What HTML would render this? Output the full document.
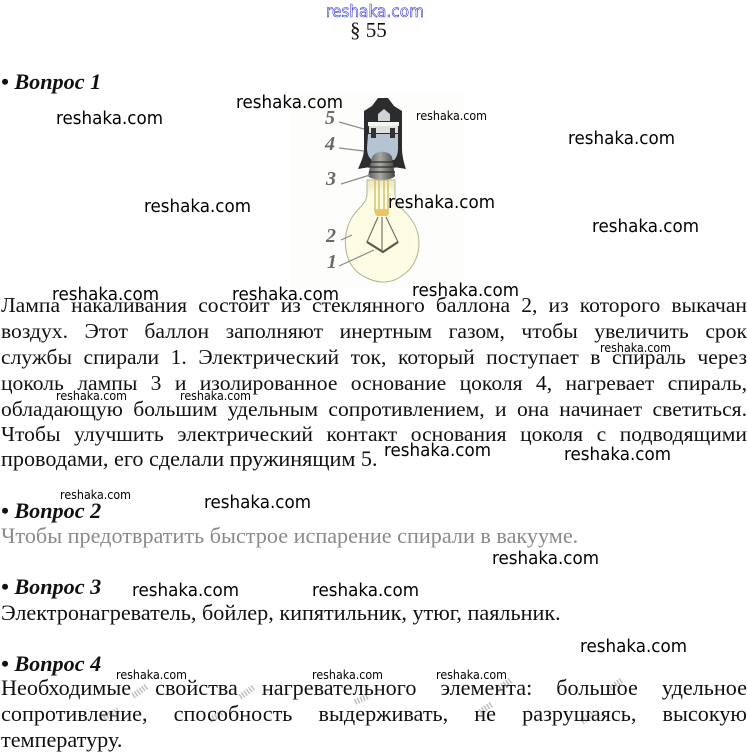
<!DOCTYPE html>
<html lang="ru">
<head>
<meta charset="utf-8">
<style>
html,body{margin:0;padding:0;background:#fff;width:747px;height:752px;overflow:hidden}
body{position:relative;font-family:"Liberation Serif","Noto Serif CJK SC",serif;color:#111}
.l{position:absolute;left:1px;width:746px;font-size:21.6px;line-height:26px;height:26px;white-space:nowrap;text-align:justify;text-align-last:justify}
.s{text-align:left;text-align-last:left;font-size:22.2px}
.b{font-size:22.2px}
.h{position:absolute;left:1px;font-size:22.2px;line-height:26px;font-weight:bold;font-style:italic;white-space:nowrap}
svg{position:absolute;left:0;top:0}
.w{font-family:"DejaVu Sans",sans-serif;fill:#000}
</style>
</head>
<body>
<svg width="747" height="752" viewBox="0 0 747 752">
  <defs>
    <radialGradient id="g" cx="50%" cy="58%" r="55%">
      <stop offset="0" stop-color="#fdfbe0"/>
      <stop offset="0.85" stop-color="#fdfce4"/>
      <stop offset="1" stop-color="#f0edc6"/>
    </radialGradient>
    <linearGradient id="sc" x1="0" x2="1" y1="0" y2="0">
      <stop offset="0" stop-color="#5a5a58"/>
      <stop offset="0.45" stop-color="#a9a9a4"/>
      <stop offset="1" stop-color="#444442"/>
    </linearGradient>
  </defs>
  <rect x="290" y="92" width="175" height="196" fill="#fdfdfc"/>
  <!-- bulb glass -->
  <path d="M367 180 L367 194 C367 204 357 208 351 219 C340 240 345 268 365 277 C378 284 392 284 403 275 C421 263 424 236 411 219 C404 209 395 205 395 194 L395 180 Z" fill="url(#g)" stroke="#b4b296" stroke-width="1"/>
  <!-- filament supports -->
  <path d="M375 178 V212 M379 178 V212 M384 178 V212 M388 178 V212" stroke="#cfbd62" stroke-width="1.4" fill="none"/>
  <rect x="375" y="209" width="14" height="7" rx="3" fill="#e5c765"/>
  <path d="M378 217 L367 242 L383 252 L398 242 L386 217 M382 217 V250" stroke="#6a6a60" stroke-width="1.1" fill="none"/>
  <path d="M367 242 L383 252 L398 242" stroke="#57564c" stroke-width="2.2" fill="none"/>
  <!-- socket -->
  <path d="M378 98 L388 98 L394 106 L402 111 L402 148 C402 156 404 163 406 169 L394 167 L370 167 L358 169 C361 162 364 156 364 148 L364 111 L372 106 Z" fill="#2a2c2e"/>
  <path d="M368 134 L398 134 L398 148 C398 155 396 158 394 160 L372 160 C369 158 367 154 367 148 Z" fill="#b4c4d2"/>
  <path d="M369 125 H398 V133 H369 Z" fill="#dfe0dc"/>
  <path d="M368 122 H399 V126 H368 Z" fill="#f4f4f0"/>
  <path d="M378 114 L384 109 L390 114 L390 121 L378 121 Z" fill="#d0d3d0"/>
  <path d="M371 128 h5 v10 h-5z M390 128 h5 v10 h-5z" fill="#333"/>
  <!-- screw cap -->
  <path d="M372 157 C376 150 389 150 392 157 L395 176 C392 181 372 181 368 176 Z" fill="url(#sc)"/>
  <path d="M369 162 H395 M368 167 H396 M369 172 H395" stroke="#2e2e2c" stroke-width="1.3"/>
  <!-- leader lines -->
  <path d="M339 122 L364 129 M339 148 L364 151 M341 184 L370 175 M341 240 L352 235 M339 266 L374 250" stroke="#8b8b85" stroke-width="1.2" fill="none"/>
  <g font-family="Liberation Serif, serif" font-size="20" font-style="italic" fill="#6a6a62" font-weight="bold">
    <text x="325" y="124">5</text>
    <text x="325" y="150">4</text>
    <text x="326" y="185">3</text>
    <text x="326" y="242">2</text>
    <text x="327" y="268">1</text>
  </g>
  <!-- large watermarks -->
  <g class="w" font-size="18">
    <text x="236" y="108" textLength="107" lengthAdjust="spacingAndGlyphs">reshaka.com</text>
    <text x="56" y="124" textLength="107" lengthAdjust="spacingAndGlyphs">reshaka.com</text>
    <text x="568" y="144" textLength="107" lengthAdjust="spacingAndGlyphs">reshaka.com</text>
    <text x="144" y="212" textLength="107" lengthAdjust="spacingAndGlyphs">reshaka.com</text>
    <text x="388" y="208" textLength="107" lengthAdjust="spacingAndGlyphs">reshaka.com</text>
    <text x="592" y="232" textLength="107" lengthAdjust="spacingAndGlyphs">reshaka.com</text>
    <text x="52" y="300" textLength="107" lengthAdjust="spacingAndGlyphs">reshaka.com</text>
    <text x="232" y="300" textLength="107" lengthAdjust="spacingAndGlyphs">reshaka.com</text>
    <text x="412" y="296" textLength="107" lengthAdjust="spacingAndGlyphs">reshaka.com</text>
    <text x="384" y="456" textLength="107" lengthAdjust="spacingAndGlyphs">reshaka.com</text>
    <text x="564" y="460" textLength="107" lengthAdjust="spacingAndGlyphs">reshaka.com</text>
    <text x="204" y="508" textLength="107" lengthAdjust="spacingAndGlyphs">reshaka.com</text>
    <text x="492" y="564" textLength="107" lengthAdjust="spacingAndGlyphs">reshaka.com</text>
    <text x="132" y="596" textLength="107" lengthAdjust="spacingAndGlyphs">reshaka.com</text>
    <text x="312" y="596" textLength="107" lengthAdjust="spacingAndGlyphs">reshaka.com</text>
    <text x="580" y="652" textLength="107" lengthAdjust="spacingAndGlyphs">reshaka.com</text>
  </g>
  <!-- small watermarks -->
  <g class="w" font-size="12">
    <text x="416" y="120" textLength="71" lengthAdjust="spacingAndGlyphs">reshaka.com</text>
    <text x="600" y="352" textLength="71" lengthAdjust="spacingAndGlyphs">reshaka.com</text>
    <text x="56" y="400" textLength="71" lengthAdjust="spacingAndGlyphs">reshaka.com</text>
    <text x="180" y="400" textLength="71" lengthAdjust="spacingAndGlyphs">reshaka.com</text>
    <text x="60" y="499" textLength="71" lengthAdjust="spacingAndGlyphs">reshaka.com</text>
    <text x="116" y="679" textLength="71" lengthAdjust="spacingAndGlyphs">reshaka.com</text>
    <text x="312" y="679" textLength="71" lengthAdjust="spacingAndGlyphs">reshaka.com</text>
    <text x="436" y="679" textLength="71" lengthAdjust="spacingAndGlyphs">reshaka.com</text>
  </g>
  <!-- outlined top watermark -->
  <text x="326" y="17" textLength="98" lengthAdjust="spacingAndGlyphs" font-family="DejaVu Sans, sans-serif" font-size="17" fill="#fff" stroke="#2a2ad0" stroke-width="0.6">reshaka.com</text>
  <!-- smudges near the last paragraph -->
  <g stroke="#a9a9a9" stroke-width="6" stroke-dasharray="1.5 1.5" opacity="0.75" fill="none">
    <path d="M133 696 l14 -10 M240 697 l14 -10 M355 702 l14 -6 M497 690 l14 -10 M608 690 l14 -10 M104 718 l14 -8 M210 720 l14 -8 M480 712 l12 -8 M582 722 l12 -10"/>
  </g>
</svg>

<div class="h" style="left:350px;top:17px;font-weight:normal;font-style:normal;font-size:21px">§ 55</div>
<div class="h" style="top:69px">• Вопрос 1</div>

<div class="l" style="top:292px">Лампа накаливания состоит из стеклянного баллона 2, из которого выкачан</div>
<div class="l" style="top:318px">воздух. Этот баллон заполняют инертным газом, чтобы увеличить срок</div>
<div class="l" style="top:344px">службы спирали 1. Электрический ток, который поступает в спираль через</div>
<div class="l" style="top:370px">цоколь лампы 3 и изолированное основание цоколя 4, нагревает спираль,</div>
<div class="l" style="top:396px">обладающую большим удельным сопротивлением, и она начинает светиться.</div>
<div class="l" style="top:421px">Чтобы улучшить электрический контакт основания цоколя с подводящими</div>
<div class="l s" style="top:446px">проводами, его сделали пружинящим 5.</div>

<div class="h" style="top:498px">• Вопрос 2</div>
<div class="l s" style="top:523px;color:#8a8a8a">Чтобы предотвратить быстрое испарение спирали в вакууме.</div>

<div class="h" style="top:574px">• Вопрос 3</div>
<div class="l s" style="top:600px">Электронагреватель, бойлер, кипятильник, утюг, паяльник.</div>

<div class="h" style="top:651px">• Вопрос 4</div>
<div class="l b" style="top:675px">Необходимые свойства нагревательного элемента: большое удельное</div>
<div class="l b" style="top:701px">сопротивление, способность выдерживать, не разрушаясь, высокую</div>
<div class="l s" style="top:727px">температуру.</div>
</body>
</html>
